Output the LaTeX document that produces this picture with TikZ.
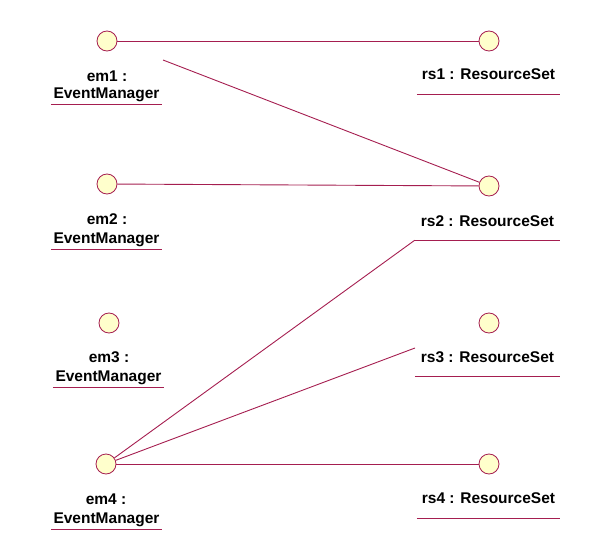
\documentclass[tikz,border=0pt]{standalone}
\usepackage{fontspec}
\setmainfont{Liberation Sans}
\definecolor{umlred}{RGB}{165,30,80}
\definecolor{objfill}{RGB}{255,255,204}
\tikzset{
  obj/.style={circle,draw=umlred,fill=objfill,line width=0.8pt,minimum size=20pt,inner sep=0pt},
  lnk/.style={draw=umlred,line width=0.9pt},
  uline/.style={draw=umlred,line width=1pt},
  lbl/.style={font=\fontsize{15.5}{17}\selectfont\bfseries,inner sep=0pt},
}
\begin{document}
\begin{tikzpicture}[x=1pt,y=-1pt]
                \useasboundingbox (0,0) rectangle (600,559);
                % event managers
                \node[obj] (em1) at (107,41) {};
                \node[obj] (em2) at (107,184) {};
                \node[obj] (em3) at (109,323) {};
                \node[obj] (em4) at (106,464) {};
                \node[lbl] (em1name) at (107,76) {em1 :};
                \node[lbl] (em2name) at (107,219) {em2 :};
                \node[lbl] (em3name) at (109,357) {em3 :};
                \node[lbl] (em4name) at (106,499) {em4 :};
                \node[lbl,minimum width=111pt,minimum height=18pt] (em1type) at (106.5,95) {EventManager};
                \node[lbl,minimum width=111pt,minimum height=18pt] (em2type) at (106.5,240) {EventManager};
                \node[lbl,minimum width=111pt,minimum height=18pt] (em3type) at (108.5,378) {EventManager};
                \node[lbl,minimum width=111pt,minimum height=18pt] (em4type) at (106.5,520) {EventManager};

                % resource sets
                \node[obj] (rs1) at (489,41) {};
                \node[obj] (rs2) at (489,186) {};
                \node[obj] (rs3) at (489,323) {};
                \node[obj] (rs4) at (489,464) {};
                \node[lbl,minimum width=143pt,minimum height=40pt] (rs1lbl) at (488.5,74) {rs1 : ResourceSet};
                \node[lbl,minimum width=145pt,minimum height=38pt] (rs2lbl) at (487.5,221) {rs2 : ResourceSet};
                \node[lbl,minimum width=145pt,minimum height=38pt] (rs3lbl) at (487.5,357) {rs3 : ResourceSet};
                \node[lbl,minimum width=143pt,minimum height=40pt] (rs4lbl) at (488.5,498) {rs4 : ResourceSet};

                \foreach \n in {em1type,em2type,em3type,em4type,rs1lbl,rs2lbl,rs3lbl,rs4lbl}
                    \draw[uline] (\n.south west) -- (\n.south east);

                \coordinate (em1c) at (163,60);
                \coordinate (rs3c) at (415,348);

                \draw[lnk] (em1) -- (rs1);
                \draw[lnk] (em1c) -- (rs2);
                \draw[lnk] (em2) -- (rs2);
                \draw[lnk] (em4) -- (rs2lbl.south west);
                \draw[lnk] (em4) -- (rs3c);
                \draw[lnk] (em4) -- (rs4);
            \end{tikzpicture}
\end{document}
